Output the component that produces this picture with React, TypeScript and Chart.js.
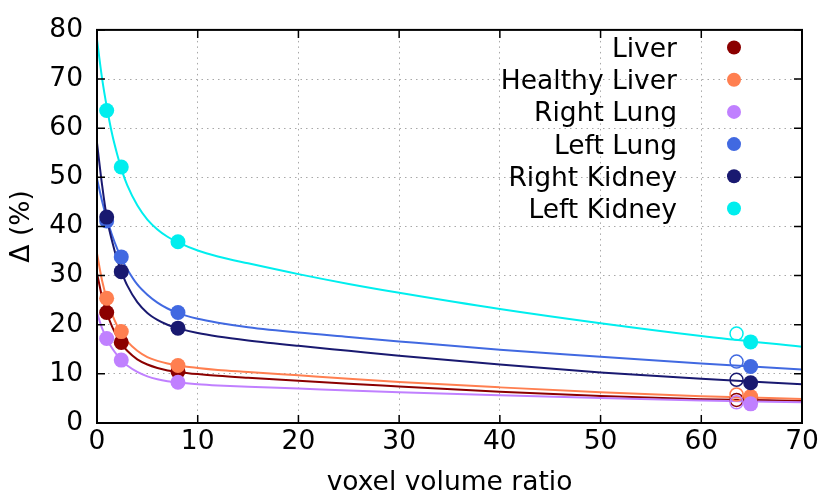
import React, { useEffect, useRef } from 'react';
import { Chart, registerables } from 'chart.js';

Chart.register(...registerables);

// ---- data ----
const seriesNames = ['Liver', 'Healthy Liver', 'Right Lung', 'Left Lung', 'Right Kidney', 'Left Kidney'];
const seriesColors = ['#8b0000', '#ff7f50', '#c080ff', '#4169e1', '#191970', '#00eeee'];

// fitted curves
const fitX = [0, 0.5, 1, 1.5, 2, 2.5, 3, 4, 5, 6, 7, 8, 10, 12, 15, 20, 25, 30, 40, 50, 60, 70];
const liverFit = [30.5, 25.7, 22.25, 19.6, 17.5, 15.9, 14.7, 12.95, 11.9, 11.2, 10.7, 10.4, 9.95, 9.6, 9.2, 8.6, 8.0, 7.45, 6.35, 5.5, 4.85, 4.5];
const healthyFit = [34.5, 29.0, 25.1, 22.1, 19.8, 18.0, 16.6, 14.7, 13.4, 12.65, 12.1, 11.7, 11.2, 10.8, 10.4, 9.7, 9.0, 8.35, 7.25, 6.25, 5.45, 4.9];
const rightLungFit = [22.4, 19.3, 17.0, 15.2, 13.8, 12.6, 11.7, 10.4, 9.5, 8.9, 8.5, 8.25, 7.9, 7.65, 7.37, 7.0, 6.6, 6.25, 5.65, 5.1, 4.6, 4.2];
const leftLungFit = [49.7, 45.2, 41.4, 38.2, 35.5, 33.2, 31.3, 28.2, 26.1, 24.5, 23.3, 22.4, 21.2, 20.4, 19.5, 18.4, 17.5, 16.6, 14.9, 13.5, 12.1, 10.9];
const rightKidneyFit = [57.0, 48.5, 41.5, 37.0, 33.3, 30.4, 28.0, 24.6, 22.4, 21.0, 20.0, 19.3, 18.3, 17.6, 16.8, 15.7, 14.7, 13.7, 11.9, 10.3, 9.0, 7.9];
const leftKidneyFit = [78.0, 70.2, 64.0, 58.8, 54.7, 51.2, 48.4, 44.3, 41.4, 39.4, 37.9, 36.8, 35.1, 33.9, 32.5, 30.3, 28.3, 26.5, 23.2, 20.3, 17.7, 15.5];

// measured points (filled)
const markerX = [0.96, 2.41, 8.04, 64.9];
const liverPts = [22.5, 16.4, 10.5, 5.0];
const healthyPts = [25.4, 18.6, 11.7, 5.4];
const rightLungPts = [17.2, 12.8, 8.3, 3.9];
const leftLungPts = [41.1, 33.8, 22.5, 11.5];
const rightKidneyPts = [41.9, 30.8, 19.3, 8.2];
const leftKidneyPts = [63.6, 52.1, 36.9, 16.5];

// open circles
const openX = 63.5;
const openVals = [4.7, 5.8, 4.2, 12.5, 8.8, 18.2];

const xTicks = [0, 10, 20, 30, 40, 50, 60, 70];
const yTicks = [0, 10, 20, 30, 40, 50, 60, 70, 80];

const fitSeries = [liverFit, healthyFit, rightLungFit, leftLungFit, rightKidneyFit, leftKidneyFit];
const ptSeries = [liverPts, healthyPts, rightLungPts, leftLungPts, rightKidneyPts, leftKidneyPts];

const FONT = '"DejaVu Sans", sans-serif';
const FS = 26.5;

const framePlugin = {
  id: 'gpFrame',
  afterDatasetsDraw(chart: any) {
    const { ctx, chartArea, scales } = chart;
    const { left, right, top, bottom } = chartArea;
    ctx.save();
    ctx.strokeStyle = '#000';
    ctx.lineWidth = 1.5;
    const tl = 8;
    ctx.beginPath();
    xTicks.forEach((v) => {
      const px = scales.x.getPixelForValue(v);
      ctx.moveTo(px, bottom);
      ctx.lineTo(px, bottom - tl);
      ctx.moveTo(px, top);
      ctx.lineTo(px, top + tl);
    });
    yTicks.forEach((v) => {
      const py = scales.y.getPixelForValue(v);
      ctx.moveTo(left, py);
      ctx.lineTo(left + tl, py);
      ctx.moveTo(right, py);
      ctx.lineTo(right - tl, py);
    });
    ctx.stroke();
    ctx.lineWidth = 2;
    ctx.strokeRect(left, top, right - left, bottom - top);
    ctx.restore();
  },
};

const legendPlugin = {
  id: 'gpLegend',
  afterDraw(chart: any) {
    const { ctx } = chart;
    ctx.save();
    ctx.font = `${FS}px ${FONT}`;
    ctx.textAlign = 'right';
    ctx.textBaseline = 'alphabetic';
    seriesNames.forEach((name, i) => {
      const y = 47.5 + i * 32.2;
      ctx.fillStyle = '#000';
      ctx.fillText(name, 677, y + 9.5);
      ctx.beginPath();
      ctx.arc(734, y, 7, 0, Math.PI * 2);
      ctx.fillStyle = seriesColors[i];
      ctx.fill();
    });
    ctx.restore();
  },
};

export default function App() {
  const ref = useRef<HTMLCanvasElement>(null);

  useEffect(() => {
    if (!ref.current) return;
    const datasets: any[] = [];
    seriesNames.forEach((name, i) => {
      datasets.push({
        label: name + ' fit',
        data: fitX.map((x, k) => ({ x, y: fitSeries[i][k] })),
        showLine: true,
        borderColor: seriesColors[i],
        borderWidth: 2,
        pointRadius: 0,
        cubicInterpolationMode: 'monotone',
        order: 20 - i,
      });
    });
    seriesNames.forEach((name, i) => {
      datasets.push({
        label: name + ' open',
        data: [{ x: openX, y: openVals[i] }],
        pointRadius: 6.5,
        pointBorderWidth: 1.5,
        pointBorderColor: seriesColors[i],
        pointBackgroundColor: 'rgba(255,255,255,0)',
        order: 12 - i,
      });
    });
    seriesNames.forEach((name, i) => {
      datasets.push({
        label: name,
        data: markerX.map((x, k) => ({ x, y: ptSeries[i][k] })),
        pointRadius: 7.5,
        pointBorderWidth: 0,
        pointBackgroundColor: seriesColors[i],
        pointBorderColor: seriesColors[i],
        order: 6 - i,
      });
    });

    const chart = new Chart(ref.current, {
      type: 'scatter',
      data: { datasets },
      plugins: [framePlugin, legendPlugin],
      options: {
        animation: false,
        responsive: false,
        events: [],
        layout: { padding: { left: 0, top: 21, right: 24, bottom: 0 } },
        plugins: { legend: { display: false }, tooltip: { enabled: false } },
        scales: {
          x: {
            type: 'linear',
            min: 0,
            max: 70,
            afterBuildTicks: (s: any) => {
              s.ticks = xTicks.map((v) => ({ value: v }));
            },
            afterFit: (s: any) => {
              s.height = 79;
            },
            ticks: { color: '#000', font: { family: FONT, size: FS }, padding: 3, maxRotation: 0 },
            grid: { color: '#a8a8a8', lineWidth: 1, drawTicks: false },
            border: { display: false, dash: [1.5, 4] },
            title: {
              display: true,
              text: 'voxel volume ratio',
              color: '#000',
              font: { family: FONT, size: FS, lineHeight: 1 },
              padding: { top: 0, bottom: 6 },
            },
          },
          y: {
            type: 'linear',
            min: 0,
            max: 80,
            afterBuildTicks: (s: any) => {
              s.ticks = yTicks.map((v) => ({ value: v }));
            },
            afterFit: (s: any) => {
              s.width = 97;
            },
            ticks: { color: '#000', font: { family: FONT, size: FS }, padding: 14 },
            grid: { color: '#a8a8a8', lineWidth: 1, drawTicks: false },
            border: { display: false, dash: [1.5, 4] },
            title: {
              display: true,
              text: 'Δ (%)',
              color: '#000',
              font: { family: FONT, size: FS, lineHeight: 1 },
              padding: { top: 9, bottom: 0 },
            },
          },
        },
      },
    });
    return () => chart.destroy();
  }, []);

  return (
    <div style={{ position: 'fixed', left: 0, top: 0, width: 826, height: 502, background: '#fff' }}>
      <canvas ref={ref} width={826} height={502} style={{ display: 'block', width: 826, height: 502 }} />
    </div>
  );
}
